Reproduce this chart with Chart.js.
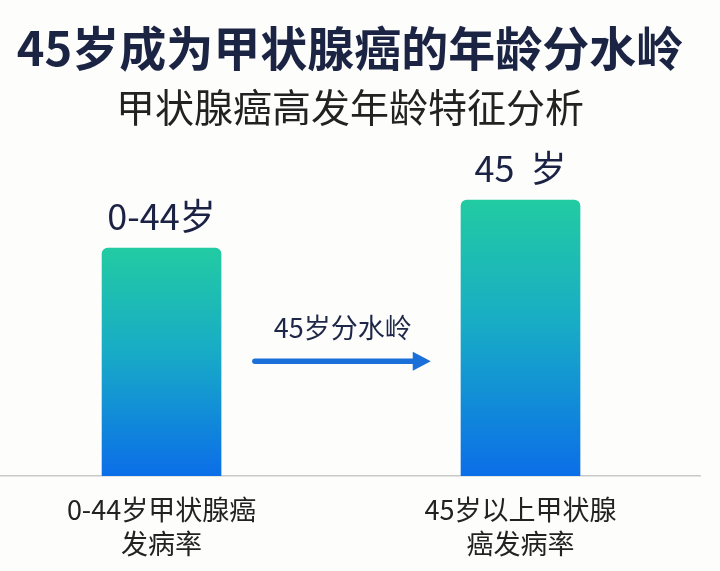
<!DOCTYPE html>
<html>
<head>
<meta charset="utf-8">
<script src="https://cdn.jsdelivr.net/npm/chart.js@4/dist/chart.umd.min.js"></script>
<style>
  html, body { margin: 0; padding: 0; background: #fdfdfc; }
  #wrap { width: 720px; height: 571px; }
</style>
</head>
<body>
<div id="wrap"><canvas id="chart" width="720" height="571"></canvas></div>
<script>
// chart data
var titleText = '45岁成为甲状腺癌的年龄分水岭';
var subtitleText = '甲状腺癌高发年龄特征分析';
var categories = [['0-44岁甲状腺癌', '发病率'], ['45岁以上甲状腺', '癌发病率']];
var barValues = [76, 92];
var valueLabels = ['0-44岁', '45  岁'];
var arrowText = '45岁分水岭';

var CJK = '"Noto Sans CJK SC", "Noto Sans", sans-serif';

// per-bar gradient, teal on top going to blue at the base
function barGradient(context) {
    var chart = context.chart;
    if (!chart.chartArea || !context.parsed) return '#1a9fd0';
    var yTop = chart.scales.y.getPixelForValue(context.parsed.y);
    var yBot = chart.scales.y.getPixelForValue(0);
    var g = chart.ctx.createLinearGradient(0, yTop, 0, yBot);
    g.addColorStop(0, '#22cba2');
    g.addColorStop(0.45, '#18acc6');
    g.addColorStop(1, '#0b6ee8');
    return g;
}

// text above each bar
var valueLabelPlugin = {
    id: 'valueLabels',
    afterDatasetsDraw: function (chart) {
        var ctx = chart.ctx;
        var meta = chart.getDatasetMeta(0);
        ctx.save();
        ctx.font = '36px ' + CJK;
        ctx.fillStyle = '#1b2244';
        ctx.textAlign = 'center';
        ctx.textBaseline = 'alphabetic';
        meta.data.forEach(function (bar, i) {
            ctx.fillText(valueLabels[i], bar.x, bar.y - 18);
        });
        ctx.restore();
    }
};

// arrow + caption between the two bars, placed in scale units
var arrowPlugin = {
    id: 'arrowNote',
    afterDatasetsDraw: function (chart, args, opts) {
        var ctx = chart.ctx;
        var xs = chart.scales.x, ys = chart.scales.y;
        var x1 = xs.getPixelForValue(opts.from);
        var x2 = xs.getPixelForValue(opts.to);
        var y = ys.getPixelForValue(opts.at);
        ctx.save();
        ctx.strokeStyle = '#1a6fd8';
        ctx.fillStyle = '#1a6fd8';
        ctx.lineWidth = 5.5;
        ctx.lineCap = 'round';
        ctx.beginPath();
        ctx.moveTo(x1, y);
        ctx.lineTo(x2 - 16, y);
        ctx.stroke();
        ctx.beginPath();
        ctx.moveTo(x2 - 18, y - 9.5);
        ctx.lineTo(x2, y);
        ctx.lineTo(x2 - 18, y + 9.5);
        ctx.closePath();
        ctx.fill();
        ctx.font = '27px ' + CJK;
        ctx.fillStyle = '#1e2748';
        ctx.textAlign = 'center';
        ctx.textBaseline = 'middle';
        ctx.fillText(arrowText, (x1 + x2) / 2, ys.getPixelForValue(opts.textAt));
        ctx.restore();
    }
};

var ctx = document.getElementById('chart');
var chart = new Chart(ctx, {
    type: 'bar',
    data: {
        datasets: [{
            data: barValues.map(function (v, i) { return { x: i, y: v }; }),
            backgroundColor: barGradient,
            borderRadius: { topLeft: 6, topRight: 6, bottomLeft: 0, bottomRight: 0 },
            borderSkipped: false,
            barThickness: 119
        }]
    },
    options: {
        responsive: false,
        animation: false,
        layout: { padding: { top: 0, right: 20, left: 0, bottom: 0 } },
        plugins: {
            legend: { display: false },
            tooltip: { enabled: false },
            title: {
                display: true,
                text: titleText,
                color: '#1c2444',
                font: { family: CJK, size: 47, weight: 'bold', lineHeight: 1.2 },
                padding: { top: 20, bottom: 0 }
            },
            subtitle: {
                display: true,
                text: subtitleText,
                color: '#222222',
                font: { family: CJK, size: 39, weight: 'normal', lineHeight: 1.2 },
                padding: { top: 7, bottom: 46 }
            },
            arrowNote: { from: 0.26, to: 0.75, at: 38.3, textAt: 49.3 }
        },
        scales: {
            x: {
                type: 'linear',
                offset: false,
                min: -0.45,
                max: 1.5,
                grid: { display: false, drawTicks: false },
                border: { display: true, color: '#c9c9c9', width: 1.5 },
                afterBuildTicks: function (scale) {
                    scale.ticks = categories.map(function (c, i) { return { value: i }; });
                },
                afterFit: function (scale) {
                    scale.height = 95;
                },
                ticks: {
                    autoSkip: false,
                    maxRotation: 0,
                    padding: 17,
                    color: '#222222',
                    font: { family: CJK, size: 27, lineHeight: 1.26 },
                    callback: function (value) { return categories[value]; }
                }
            },
            y: {
                display: false,
                min: 0,
                max: 100
            }
        }
    },
    plugins: [valueLabelPlugin, arrowPlugin]
});
</script>
</body>
</html>
